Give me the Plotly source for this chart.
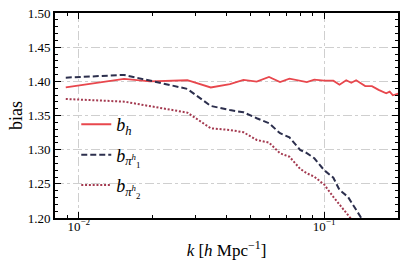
import plotly.graph_objects as go

# ---- data ----
k_h = [0.00885, 0.0153, 0.0195, 0.0277, 0.0345, 0.0413, 0.0469, 0.0531, 0.0596,
       0.0661, 0.0722, 0.085, 0.0912, 0.100, 0.109, 0.1155, 0.123, 0.129, 0.135,
       0.147, 0.1566, 0.1667, 0.179, 0.185, 0.1906, 0.198, 0.201]
b_h = [1.391, 1.4035, 1.400, 1.4016, 1.391, 1.396, 1.402, 1.3996, 1.4064,
       1.399, 1.404, 1.399, 1.4025, 1.401, 1.401, 1.395, 1.4016, 1.398, 1.4016,
       1.393, 1.393, 1.3875, 1.3826, 1.385, 1.3796, 1.3815, 1.382]

k_pi = [0.00885, 0.0153, 0.0277, 0.0345, 0.0413, 0.0469, 0.0531, 0.0596, 0.0661,
        0.0722, 0.0798, 0.085, 0.0912, 0.100, 0.109, 0.1155, 0.125, 0.142, 0.16]
b_pi1 = [1.4054, 1.4094, 1.3889, 1.364, 1.358, 1.3547, 1.346, 1.3387, 1.324,
         1.318, 1.2996, 1.295, 1.2874, 1.270, 1.259, 1.241, 1.231, 1.201, 1.17]
b_pi2 = [1.3742, 1.3703, 1.3542, 1.3313, 1.3288, 1.3255, 1.3142, 1.3103, 1.2947,
         1.2897, 1.272, 1.2654, 1.2605, 1.249, 1.231, 1.219, 1.2044, 1.18, 1.16]

names = ["<i>b</i><sub><i>h</i></sub>",
         "<i>b</i><sub><i>π</i><sup><i>h</i></sup><sub>1</sub></sub>",
         "<i>b</i><sub><i>π</i><sup><i>h</i></sup><sub>2</sub></sub>"]

x_major = [0.01, 0.1]
x_major_text = ["10<sup>−2</sup>", "10<sup>−1</sup>"]
x_minor = [0.008, 0.009, 0.02, 0.03, 0.04, 0.05, 0.06, 0.07, 0.08, 0.09, 0.2]

FONT = "Liberation Serif"

fig = go.Figure()
fig.add_trace(go.Scatter(x=k_h, y=b_h, mode="lines", name=names[0], legendgroup="a",
                         line=dict(color="#e8474d", width=1.8)))
fig.add_trace(go.Scatter(x=k_pi, y=b_pi1, mode="lines", name=names[1], legendgroup="b",
                         line=dict(color="#2c2f4d", width=2, dash="6px,3px")))
fig.add_trace(go.Scatter(x=k_pi, y=b_pi2, mode="lines", name=names[2], legendgroup="c",
                         line=dict(color="#a43a50", width=2, dash="2px,1.8px")))

axis_common = dict(
    automargin=False,
    showline=True, linecolor="black", linewidth=2, mirror="allticks",
    ticks="inside", ticklen=6, tickwidth=1, tickcolor="black",
    showgrid=True, gridcolor="#cfcfcf", gridwidth=1, griddash="dashdot",
    zeroline=False, tickfont=dict(family=FONT, size=13, color="black"),
)

fig.update_xaxes(
    type="log", range=[-2.097, -0.699],
    tickmode="array", tickvals=x_major, ticktext=x_major_text,
    minor=dict(tickmode="array", tickvals=x_minor, ticks="inside", ticklen=3,
               tickcolor="black", showgrid=False),
    title=dict(text="<i>k</i> [<i>h</i> Mpc<sup>−1</sup>]",
               font=dict(family=FONT, size=17, color="black"), standoff=7),
    **axis_common,
)
try:
    fig.update_xaxes(ticklabelstandoff=-5)
    fig.update_xaxes(title_standoff=12)
except (ValueError, TypeError):
    pass

fig.update_yaxes(
    range=[1.2, 1.5], dtick=0.05, tick0=1.2, tickformat=".2f",
    minor=dict(dtick=0.01, ticks="inside", ticklen=3, tickcolor="black", showgrid=False),
    title=dict(text="bias", font=dict(family=FONT, size=18, color="black"), standoff=0),
    **axis_common,
)

fig.update_layout(
    width=407, height=265,
    margin=dict(l=55, r=9, t=13, b=47),
    paper_bgcolor="white", plot_bgcolor="white",
    font=dict(family=FONT, color="black"),
    legend=dict(x=0.062, y=0.546, xanchor="left", yanchor="top",
                bgcolor="rgba(0,0,0,0)", borderwidth=0,
                font=dict(family=FONT, size=18, color="black"),
                tracegroupgap=4, traceorder="grouped"),
    showlegend=True,
)

fig.write_html("out.html", config={"displayModeBar": False},
               post_script="document.body.style.margin='0px';")
